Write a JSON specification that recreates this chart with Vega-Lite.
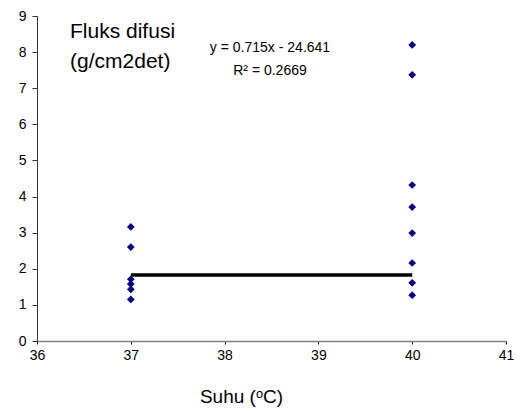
{
  "$schema": "https://vega.github.io/schema/vega-lite/v6.json",
  "width": 469,
  "height": 325,
  "autosize": "none",
  "padding": {"left": 37, "top": 16, "right": 23, "bottom": 71},
  "background": "white",
  "config": {"view": {"stroke": null}, "font": "Liberation Sans"},
  "datasets": {
    "points": [
      {"suhu": 37, "fluks": 3.16},
      {"suhu": 37, "fluks": 2.6},
      {"suhu": 37, "fluks": 1.71},
      {"suhu": 37, "fluks": 1.58},
      {"suhu": 37, "fluks": 1.43},
      {"suhu": 37, "fluks": 1.15},
      {"suhu": 40, "fluks": 8.2},
      {"suhu": 40, "fluks": 7.37},
      {"suhu": 40, "fluks": 4.32},
      {"suhu": 40, "fluks": 3.71},
      {"suhu": 40, "fluks": 2.99},
      {"suhu": 40, "fluks": 2.16},
      {"suhu": 40, "fluks": 1.61},
      {"suhu": 40, "fluks": 1.27}
    ],
    "trend": [
      {"suhu": 37, "fluks": 1.83},
      {"suhu": 40, "fluks": 1.83}
    ],
    "title": [
      {"suhu": 36.352, "fluks": 8.56, "label": "Fluks difusi"},
      {"suhu": 36.352, "fluks": 7.73, "label": "(g/cm2det)"}
    ],
    "eq": [
      {"suhu": 38.484, "fluks": 8.11, "label": "y = 0.715x - 24.641"},
      {"suhu": 38.484, "fluks": 7.48, "label": "R² = 0.2669"}
    ]
  },
  "encoding": {
    "x": {
      "field": "suhu", "type": "quantitative",
      "scale": {"domain": [36, 41], "nice": false, "zero": false},
      "axis": {
        "title": "Suhu (ᵒC)", "titleFontSize": 19, "titleFontWeight": "normal", "titleColor": "#000",
        "titleX": 204, "titleY": 55, "titleBaseline": "middle", "titleAnchor": null, "titleAlign": "center",
        "values": [36, 37, 38, 39, 40, 41], "grid": false,
        "domainColor": "#808080", "domainWidth": 1.5,
        "tickColor": "#000", "tickSize": 3,
        "labelFontSize": 14, "labelColor": "#000", "labelPadding": 4, "labelFlush": false
      }
    },
    "y": {
      "field": "fluks", "type": "quantitative",
      "scale": {"domain": [0, 9], "nice": false},
      "axis": {
        "title": null, "values": [0, 1, 2, 3, 4, 5, 6, 7, 8, 9], "grid": false,
        "domainColor": "#333", "domainWidth": 1,
        "tickColor": "#333", "tickSize": 5,
        "labelFontSize": 14, "labelColor": "#000", "labelPadding": 6
      }
    }
  },
  "layer": [
    {
      "data": {"name": "trend"},
      "mark": {"type": "line", "color": "#000", "strokeWidth": 3.5}
    },
    {
      "data": {"name": "points"},
      "mark": {"type": "point", "shape": "diamond", "filled": true, "color": "#000080", "size": 60, "opacity": 1}
    },
    {
      "data": {"name": "title"},
      "mark": {"type": "text", "align": "left", "baseline": "middle", "fontSize": 21, "color": "#000"},
      "encoding": {"text": {"field": "label"}}
    },
    {
      "data": {"name": "eq"},
      "mark": {"type": "text", "align": "center", "baseline": "middle", "fontSize": 14, "color": "#000"},
      "encoding": {"text": {"field": "label"}}
    }
  ]
}
